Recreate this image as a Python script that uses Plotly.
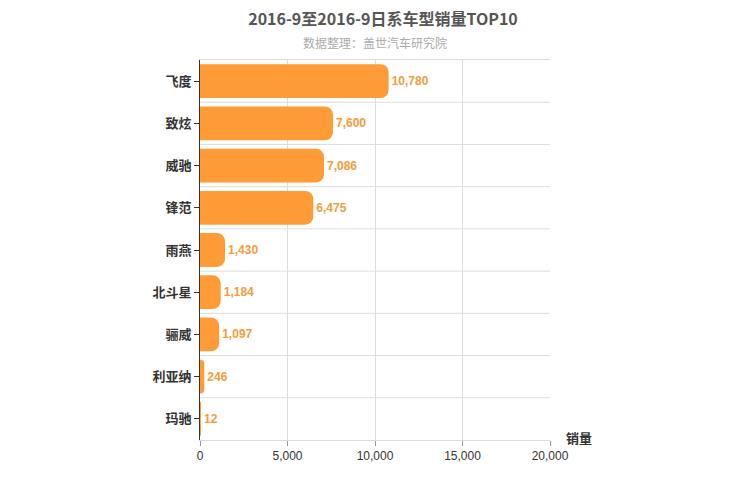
import plotly.graph_objects as go

models = ["飞度", "致炫", "威驰", "锋范", "雨燕", "北斗星", "骊威", "利亚纳", "玛驰"]
sales = [10780, 7600, 7086, 6475, 1430, 1184, 1097, 246, 12]
xticks = [0, 5000, 10000, 15000, 20000]

fig = go.Figure(go.Bar(
    y=models, x=sales, orientation="h",
    marker=dict(color="#FF9C38", cornerradius=8, line=dict(width=0)),
    text=[f"<b>{v:,}</b>" for v in sales], textposition="outside",
    textfont=dict(color="#F39C3C", size=12, family="Arial"),
    cliponaxis=False,
))
shapes = [dict(type="line", xref="paper", x0=0, x1=1, yref="y", y0=i - 0.5, y1=i - 0.5,
               line=dict(color="#DDDDDD", width=1)) for i in range(1, len(models))]
fig.update_layout(
    width=750, height=500, plot_bgcolor="white", paper_bgcolor="white",
    margin=dict(l=192, r=208, t=52, b=68, autoexpand=False), bargap=0.2, shapes=shapes,
    font=dict(family="Noto Sans CJK SC, Arial", color="#333"),
    title=dict(text="<b>2016-9至2016-9日系车型销量TOP10</b>", x=0.5, xanchor="center",
               y=0.978, yanchor="middle", font=dict(size=16, color="#555")),
    annotations=[
        dict(text="数据整理：盖世汽车研究院", xref="paper", yref="paper", x=0.5, y=1.047,
             yanchor="middle", showarrow=False, font=dict(size=12, color="#AAAAAA"), xanchor="center"),
        dict(text="<b>销量</b>", xref="paper", yref="paper", x=1.04, y=-0.023, xanchor="left",
             yanchor="bottom", showarrow=False, font=dict(size=13, color="#333")),
    ],
    xaxis=dict(range=[0, 20000], tickvals=xticks, tickformat=",", showgrid=True, automargin=False,
               gridcolor="#DDDDDD", zeroline=False, showline=True, linecolor="#DDDDDD",
               ticks="outside", tickcolor="#999", tickfont=dict(size=12, family="Arial"), mirror=True),
    yaxis=dict(autorange="reversed", showline=True, linecolor="#333", linewidth=1, automargin=False,
               ticks="outside", tickcolor="#333", ticklen=5,
               tickvals=models, ticktext=[f"<b>{m}</b>" for m in models], tickfont=dict(size=13)),
)
fig.write_html("out.html")
